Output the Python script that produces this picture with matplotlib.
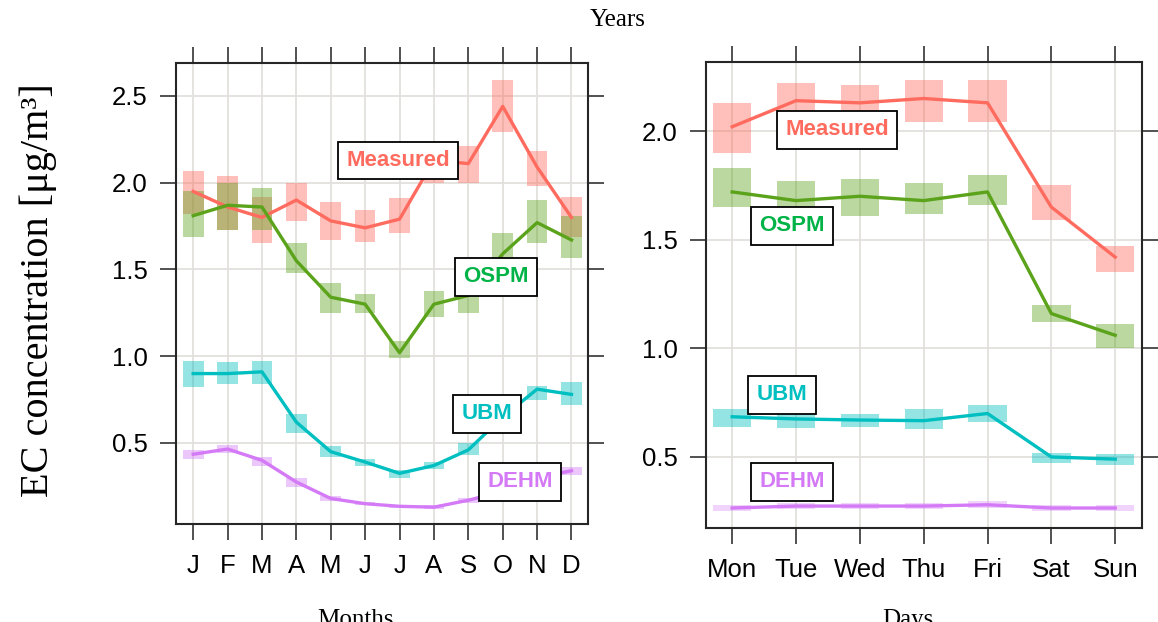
import matplotlib
matplotlib.use("Agg")
import matplotlib.pyplot as plt
from matplotlib.patches import Rectangle

# ---- data -------------------------------------------------------------
months = ["J", "F", "M", "A", "M", "J", "J", "A", "S", "O", "N", "D"]
days = ["Mon", "Tue", "Wed", "Thu", "Fri", "Sat", "Sun"]

# monthly means and confidence bands
meas_m = [1.95, 1.86, 1.80, 1.90, 1.78, 1.74, 1.79, 2.13, 2.11, 2.44, 2.09, 1.80]
meas_m_lo = [1.82, 1.73, 1.65, 1.78, 1.67, 1.66, 1.71, 2.00, 2.00, 2.29, 1.98, 1.69]
meas_m_hi = [2.07, 2.04, 1.92, 2.00, 1.89, 1.84, 1.91, 2.23, 2.21, 2.59, 2.18, 1.92]

ospm_m = [1.81, 1.87, 1.86, 1.55, 1.34, 1.30, 1.02, 1.30, 1.35, 1.59, 1.77, 1.67]
ospm_m_lo = [1.69, 1.73, 1.73, 1.48, 1.25, 1.25, 0.99, 1.225, 1.25, 1.48, 1.65, 1.565]
ospm_m_hi = [1.95, 2.00, 1.97, 1.65, 1.42, 1.36, 1.09, 1.375, 1.375, 1.71, 1.90, 1.81]

ubm_m = [0.90, 0.90, 0.91, 0.62, 0.45, 0.39, 0.325, 0.37, 0.46, 0.65, 0.81, 0.78]
ubm_m_lo = [0.82, 0.84, 0.84, 0.555, 0.42, 0.37, 0.30, 0.35, 0.43, 0.59, 0.745, 0.72]
ubm_m_hi = [0.97, 0.965, 0.97, 0.665, 0.48, 0.41, 0.345, 0.39, 0.50, 0.71, 0.83, 0.85]

dehm_m = [0.435, 0.465, 0.40, 0.275, 0.18, 0.15, 0.135, 0.13, 0.17, 0.22, 0.30, 0.34]
dehm_m_lo = [0.41, 0.44, 0.37, 0.245, 0.165, 0.14, 0.125, 0.12, 0.155, 0.20, 0.28, 0.315]
dehm_m_hi = [0.46, 0.49, 0.42, 0.30, 0.195, 0.16, 0.145, 0.14, 0.185, 0.24, 0.32, 0.36]

# day-of-week means and confidence bands
meas_d = [2.02, 2.14, 2.13, 2.15, 2.13, 1.65, 1.42]
meas_d_lo = [1.90, 2.05, 2.065, 2.04, 2.04, 1.59, 1.35]
meas_d_hi = [2.13, 2.22, 2.21, 2.235, 2.235, 1.75, 1.47]

ospm_d = [1.72, 1.68, 1.70, 1.68, 1.72, 1.16, 1.06]
ospm_d_lo = [1.65, 1.645, 1.61, 1.62, 1.66, 1.12, 1.00]
ospm_d_hi = [1.83, 1.77, 1.78, 1.76, 1.80, 1.20, 1.11]

ubm_d = [0.685, 0.675, 0.67, 0.667, 0.70, 0.50, 0.49]
ubm_d_lo = [0.64, 0.635, 0.64, 0.627, 0.66, 0.47, 0.463]
ubm_d_hi = [0.72, 0.70, 0.70, 0.72, 0.74, 0.52, 0.515]

dehm_d = [0.265, 0.274, 0.274, 0.274, 0.28, 0.265, 0.265]
dehm_d_lo = [0.25, 0.259, 0.259, 0.259, 0.265, 0.25, 0.25]
dehm_d_hi = [0.28, 0.289, 0.289, 0.289, 0.295, 0.28, 0.28]

# ---- style --------------------------------------------------------------
line_colors = {"Measured": "#FF6B5E", "OSPM": "#5BA31B",
               "UBM": "#00BFC0", "DEHM": "#D47AF7"}
text_colors = {"Measured": "#FF6B5E", "OSPM": "#00B347",
               "UBM": "#00BFC0", "DEHM": "#D47AF7"}

SANS = ["Liberation Sans", "DejaVu Sans"]
SERIF = ["Liberation Serif", "DejaVu Serif"]

fig = plt.figure(figsize=(11.58, 6.22), dpi=100)
fig.patch.set_facecolor("white")

ax_m = fig.add_axes([176 / 1158, 1 - 524 / 622, 412 / 1158, 461 / 622])
ax_d = fig.add_axes([706 / 1158, 1 - 528 / 622, 436 / 1158, 466 / 622])


def style_axes(ax, labels, yticks, ylim, xlim):
    n = len(labels)
    ax.set_xlim(*xlim)
    ax.set_ylim(*ylim)
    ax.set_xticks(range(n))
    ax.set_xticklabels(labels, family=SANS, fontsize=18.5)
    ax.set_yticks(yticks)
    ax.set_yticklabels([f"{v:.1f}" for v in yticks], family=SANS, fontsize=18.5)
    ax.tick_params(axis="both", which="both", direction="out", length=11.5,
                   width=1.1, color="#222222", top=True, right=True,
                   labeltop=False, labelright=False)
    ax.tick_params(axis="x", pad=10)
    ax.tick_params(axis="y", pad=9)
    for s in ax.spines.values():
        s.set_linewidth(1.5)
        s.set_color("#262626")
    ax.grid(True, color="#E2E0DC", linewidth=1.3, zorder=0)
    ax.set_axisbelow(True)


def draw_series(ax, name, mean, lo, hi, band_alpha=0.42):
    color = line_colors[name]
    for i, (a, b) in enumerate(zip(lo, hi)):
        ax.add_patch(Rectangle((i - 0.3, a), 0.6, b - a, facecolor=color,
                               edgecolor="none", alpha=band_alpha, zorder=2))
    ax.plot(range(len(mean)), mean, color=color, lw=2.4, zorder=3,
            solid_joinstyle="round")


def label(ax, name, x, y):
    ax.text(x, y, name, ha="center", va="center", family=SANS,
            fontsize=16, fontweight="bold", color=text_colors[name], zorder=5,
            bbox=dict(boxstyle="square,pad=0.38", facecolor="white",
                      edgecolor="black", linewidth=1.3))


style_axes(ax_m, months, [0.5, 1.0, 1.5, 2.0, 2.5], (0.033, 2.69), (-0.5, 11.48))
style_axes(ax_d, days, [0.5, 1.0, 1.5, 2.0], (0.173, 2.318), (-0.41, 6.42))

draw_series(ax_m, "Measured", meas_m, meas_m_lo, meas_m_hi)
draw_series(ax_m, "OSPM", ospm_m, ospm_m_lo, ospm_m_hi)
draw_series(ax_m, "UBM", ubm_m, ubm_m_lo, ubm_m_hi)
draw_series(ax_m, "DEHM", dehm_m, dehm_m_lo, dehm_m_hi)

draw_series(ax_d, "Measured", meas_d, meas_d_lo, meas_d_hi)
draw_series(ax_d, "OSPM", ospm_d, ospm_d_lo, ospm_d_hi)
draw_series(ax_d, "UBM", ubm_d, ubm_d_lo, ubm_d_hi)
draw_series(ax_d, "DEHM", dehm_d, dehm_d_lo, dehm_d_hi, band_alpha=0.32)

label(ax_m, "Measured", 5.95, 2.128)
label(ax_m, "OSPM", 8.81, 1.458)
label(ax_m, "UBM", 8.54, 0.668)
label(ax_m, "DEHM", 9.5, 0.276)

label(ax_d, "Measured", 1.64, 2.005)
label(ax_d, "OSPM", 0.94, 1.564)
label(ax_d, "UBM", 0.78, 0.786)
label(ax_d, "DEHM", 0.94, 0.385)

fig.text(618 / 1158, 1 - 20 / 622, "Years", ha="center", va="center",
         family=SERIF, fontsize=18)
fig.text(38 / 1158, 1 - 290 / 622, "EC concentration [\u03bcg/m\u00b3]",
         rotation=90, ha="center", va="center", family=SERIF, fontsize=29)
fig.text(355 / 1158, -0.006, "Months", ha="center", va="baseline",
         family=SERIF, fontsize=18)
fig.text(908 / 1158, -0.006, "Days", ha="center", va="baseline",
         family=SERIF, fontsize=18)

fig.savefig("out.png", dpi=100, facecolor="white")
